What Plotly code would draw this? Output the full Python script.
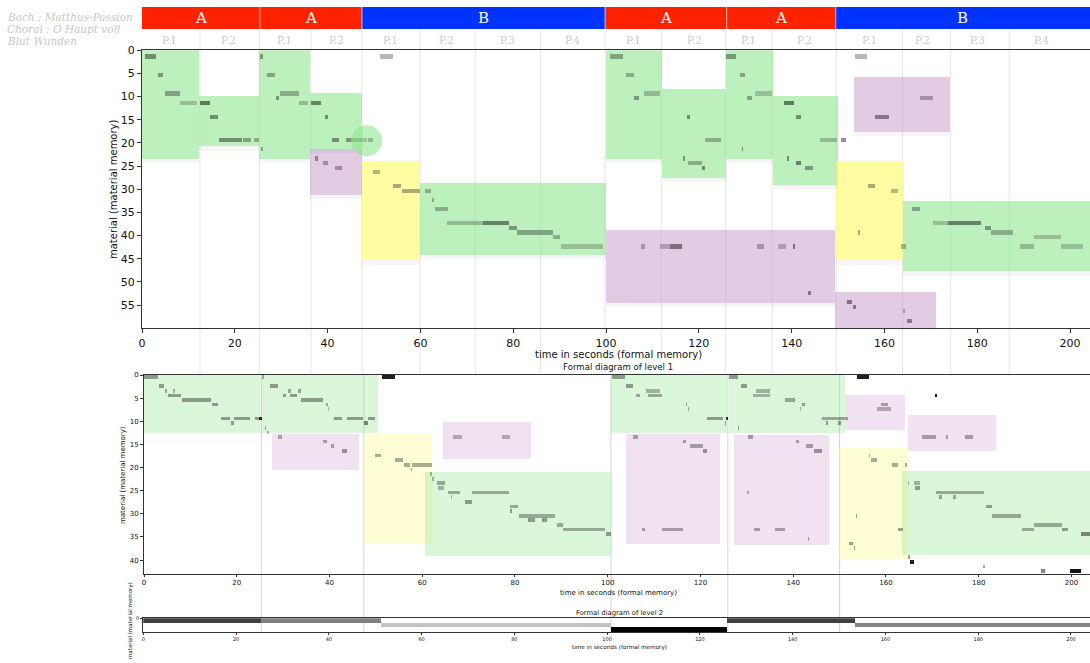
import plotly.graph_objects as go

W, H = 1090, 663

# ---------------- data ----------------
section_labels = ["A", "A", "B", "A", "A", "B"]
section_start = [0, 25.4, 47.4, 99.8, 126.0, 149.5]
section_end = [25.4, 47.4, 99.8, 126.0, 149.5, 204.3]
section_colors = ["#ff2200", "#ff2200", "#0033ff", "#ff2200", "#ff2200", "#0033ff"]

sub_labels = ["P.1", "P.2", "P.1", "P.2", "P.1", "P.2", "P.3", "P.4",
              "P.1", "P.2", "P.1", "P.2", "P.1", "P.2", "P.3", "P.4"]
sub_label_x = [6.0, 18.6, 30.8, 42.0, 53.5, 65.7, 78.7, 92.8,
               105.9, 119.0, 130.7, 142.8, 156.7, 168.2, 180.0, 193.9]
sub_bounds = [12.5, 25.3, 36.4, 47.4, 59.9, 71.8, 85.9, 99.8, 111.9,
              125.8, 135.8, 149.6, 163.9, 174.3, 186.9]

# level-0 (top) regions
top_x0 = [0, 12.3, 25.3, 36.3, 36.3, 47.5, 60.0, 100.0, 112.0, 125.8, 136.0, 100.0, 153.5, 149.5, 163.9, 149.3]
top_x1 = [12.3, 25.3, 36.3, 47.4, 47.4, 60.0, 100.0, 112.0, 125.8, 136.0, 150.0, 149.3, 174.1, 163.9, 204.3, 171.2]
top_y0 = [0, 9.9, 0, 9.2, 21.4, 24.0, 28.8, 0, 8.4, 0, 9.9, 38.9, 5.9, 24.0, 32.5, 52.3]
top_y1 = [23.5, 20.8, 23.5, 21.4, 31.3, 45.4, 44.2, 23.5, 27.6, 23.5, 29.1, 54.6, 17.7, 45.4, 47.8, 60.0]
top_kind = ["g", "g", "g", "g", "p", "y", "g", "g", "g", "g", "g", "p", "p", "y", "g", "p"]

circle_x = [48.4]
circle_y = [19.5]

top_note_row = [1, 5, 9, 11, 11, 14, 19, 19, 19,
                1, 5, 10, 9, 11, 11, 14, 19, 19, 19, 21,
                23, 24, 25, 1,
                26, 29, 30, 30,
                32, 34, 37, 37, 38, 39, 40, 42,
                1, 5, 10, 9,
                14, 19, 23, 24, 25,
                1, 5, 10, 9, 21,
                11, 14, 19, 19, 23, 24, 25,
                42, 42, 42, 42, 42, 42, 52,
                10, 14, 1,
                29, 30, 39, 42,
                34, 37, 37, 38, 39, 40, 42, 42,
                54, 55, 56, 58]
top_note_x0 = [0.6, 3.5, 5.0, 8.2, 12.5, 14.7, 16.6, 21.8, 24.2,
               25.4, 27.0, 28.9, 29.7, 33.9, 36.4, 39.4, 41.0, 44.0, 48.7, 25.7,
               37.3, 39.0, 41.6, 51.3,
               49.8, 54.0, 56.0, 61.0,
               62.6, 63.1, 65.7, 73.4, 79.0, 80.9, 88.6, 90.2,
               100.8, 104.4, 106.0, 108.2,
               117.5, 121.3, 116.5, 117.7, 120.6,
               125.9, 128.9, 130.3, 132.1, 129.2,
               138.4, 141.0, 146.1, 150.6, 139.1, 141.0, 142.8,
               107.5, 111.6, 113.7, 132.5, 137.0, 140.4, 143.6,
               167.7, 158.0, 153.7,
               156.5, 161.5, 154.3, 163.5,
               166.0, 170.4, 173.8, 181.6, 182.9, 192.2, 189.2, 198.0,
               152.0, 153.3, 164.0, 164.9]
top_note_x1 = [3.0, 4.5, 8.2, 11.8, 14.7, 16.4, 21.5, 23.5, 25.2,
               26.1, 28.7, 29.6, 33.8, 35.8, 38.5, 40.0, 42.5, 48.4, 49.8, 26.0,
               38.0, 40.0, 43.0, 54.0,
               51.3, 55.9, 60.0, 62.3,
               63.0, 66.0, 73.4, 79.0, 80.8, 88.6, 90.0, 99.3,
               103.7, 106.0, 107.0, 111.6,
               118.2, 124.8, 117.0, 120.6, 121.3,
               128.0, 130.0, 131.4, 135.7, 129.6,
               140.5, 142.0, 149.7, 151.8, 139.5, 142.0, 144.6,
               108.5, 113.7, 116.3, 134.0, 138.8, 140.7, 144.2,
               170.4, 161.0, 156.3,
               158.0, 163.0, 154.7, 164.7,
               167.7, 173.8, 180.9, 183.0, 187.7, 198.0, 192.2, 202.8,
               153.0, 153.8, 164.4, 166.0]
top_note_alpha = [0.45, 0.4, 0.35, 0.22, 0.55, 0.45, 0.45, 0.35, 0.3,
                  0.4, 0.35, 0.4, 0.3, 0.25, 0.5, 0.45, 0.45, 0.4, 0.55, 0.35,
                  0.4, 0.35, 0.35, 0.3,
                  0.3, 0.35, 0.35, 0.3,
                  0.3, 0.3, 0.25, 0.5, 0.4, 0.35, 0.3, 0.22,
                  0.35, 0.3, 0.4, 0.25,
                  0.45, 0.3, 0.4, 0.3, 0.45,
                  0.4, 0.35, 0.35, 0.22, 0.45,
                  0.55, 0.45, 0.25, 0.45, 0.45, 0.5, 0.4,
                  0.3, 0.25, 0.5, 0.3, 0.25, 0.5, 0.45,
                  0.3, 0.45, 0.3,
                  0.35, 0.3, 0.35, 0.3,
                  0.35, 0.22, 0.5, 0.4, 0.3, 0.22, 0.25, 0.22,
                  0.5, 0.45, 0.3, 0.45]

# level-1 regions
l1_x0 = [0, 25.2, 27.5, 47.3, 60.7, 64.5, 100.7, 103.9, 126.1, 127.3, 151.1, 164.8, 149.9, 163.4]
l1_x1 = [25.0, 50.4, 46.4, 62.2, 100.8, 83.4, 125.8, 124.3, 151.1, 147.7, 164.1, 183.7, 164.8, 204.3]
l1_y0 = [0, 0, 12.7, 12.7, 20.9, 10.2, 0, 12.7, 0, 12.9, 4.3, 8.6, 15.8, 20.7]
l1_y1 = [12.5, 12.5, 20.6, 36.5, 39.1, 18.1, 12.6, 36.6, 12.5, 36.8, 11.9, 16.5, 39.7, 38.9]
l1_kind = ["g", "g", "p", "y", "g", "p", "g", "p", "g", "p", "p", "p", "y", "g"]
l1_bounds = [25.3, 47.4, 100.7, 125.9, 150.0]

l1_note_row = [0, 2, 3, 4, 3, 5, 6, 9, 9, 9, 10, 9,
               0, 2, 4, 4, 3, 3, 5, 6, 7, 9, 9, 9, 10, 11, 12,
               13, 14, 15, 16, 0,
               17, 18, 19, 19, 20,
               21, 22, 23, 24, 25, 26, 25, 27, 28, 29, 30, 31, 31, 32, 33, 34,
               13, 13,
               0, 2, 4, 4, 3, 6, 7, 9, 10, 9,
               13, 14, 15, 16, 33, 33,
               0, 2, 4, 3, 5, 6, 7, 9, 10, 10, 11,
               13, 25, 33, 33, 14, 15, 16, 35,
               0, 6, 7, 4, 13, 13, 13,
               17, 18, 19, 19, 30, 33, 36, 37,
               23, 23, 24, 25, 26, 26, 28, 30, 32, 33, 33, 34, 39, 40, 41, 42, 42]
l1_note_x0 = [0.0, 3.3, 4.6, 5.2, 6.3, 8.3, 14.6, 16.7, 19.3, 23.9, 18.7, 24.9,
              25.5, 27.2, 29.9, 31.5, 31.0, 33.2, 33.8, 39.2, 39.7, 41.0, 43.7, 48.4, 47.5, 26.1, 26.6,
              29.0, 38.7, 40.3, 42.6, 51.4,
              49.8, 54.1, 56.0, 57.7, 57.5,
              61.6, 62.2, 63.1, 63.5, 65.6, 66.2, 70.7, 69.2, 78.9, 78.9, 80.9, 82.9, 85.8, 89.0, 90.4, 99.6,
              66.7, 77.1,
              100.9, 104.0, 106.0, 108.6, 108.3, 116.9, 117.3, 121.3, 125.3, 125.6,
              105.5, 116.3, 117.7, 120.6, 107.3, 111.6,
              126.1, 128.7, 131.4, 131.9, 138.2, 141.8, 141.4, 146.1, 147.0, 149.7, 128.1,
              130.3, 130.1, 131.5, 136.1, 140.7, 142.7, 144.5, 143.2,
              153.7, 158.9, 158.0, 170.6, 167.7, 173.0, 177.0,
              156.3, 156.7, 161.3, 164.2, 153.5, 162.5, 152.1, 153.1,
              164.8, 166.0, 166.2, 170.8, 171.5, 174.5, 181.5, 182.9, 192.0, 189.4, 198.0, 202.0,
              164.8, 165.2, 181.0, 193.5, 199.7]
l1_note_x1 = [3.1, 4.4, 5.0, 8.0, 6.6, 14.4, 16.0, 18.5, 22.9, 25.4, 19.3, 25.4,
              25.9, 28.8, 30.6, 33.0, 31.6, 33.8, 38.7, 39.6, 40.0, 42.6, 47.3, 49.9, 48.3, 26.4, 26.9,
              29.7, 39.4, 41.0, 43.7, 54.1,
              51.2, 55.8, 57.4, 62.2, 57.8,
              62.0, 62.5, 65.0, 64.8, 68.1, 66.5, 78.8, 70.7, 80.7, 79.3, 88.6, 84.3, 86.8, 90.3, 99.4, 100.7,
              68.5, 78.9,
              103.7, 105.5, 107.0, 111.6, 111.2, 117.2, 117.6, 124.9, 125.6, 125.9,
              106.6, 116.9, 120.6, 121.3, 108.0, 116.3,
              128.0, 130.1, 135.0, 135.0, 140.4, 142.5, 141.7, 151.9, 147.5, 150.2, 128.4,
              131.4, 130.4, 132.8, 138.2, 141.3, 144.2, 146.1, 143.5,
              156.4, 160.5, 161.0, 170.9, 170.8, 173.4, 178.8,
              156.6, 158.0, 162.5, 164.5, 153.8, 163.7, 152.8, 153.4,
              165.0, 167.3, 167.3, 181.1, 172.0, 175.0, 182.9, 189.2, 197.9, 192.0, 199.3, 203.9,
              165.1, 166.0, 181.3, 194.2, 202.0]
l1_note_alpha = [0.4, 0.4, 0.35, 0.4, 0.3, 0.4, 0.4, 0.4, 0.4, 0.4, 0.4, 0.85,
                 0.35, 0.4, 0.4, 0.4, 0.35, 0.35, 0.4, 0.35, 0.3, 0.4, 0.4, 0.4, 0.5, 0.35, 0.3,
                 0.35, 0.35, 0.35, 0.4, 0.95,
                 0.35, 0.35, 0.35, 0.35, 0.35,
                 0.3, 0.3, 0.35, 0.3, 0.35, 0.3, 0.35, 0.4, 0.35, 0.4, 0.35, 0.4, 0.4, 0.35, 0.35, 0.4,
                 0.3, 0.3,
                 0.4, 0.4, 0.35, 0.35, 0.3, 0.35, 0.35, 0.4, 0.4, 0.9,
                 0.35, 0.35, 0.35, 0.4, 0.35, 0.35,
                 0.4, 0.4, 0.3, 0.3, 0.35, 0.4, 0.3, 0.35, 0.4, 0.4, 0.35,
                 0.35, 0.3, 0.35, 0.35, 0.35, 0.35, 0.4, 0.35,
                 0.95, 0.35, 0.3, 0.95, 0.35, 0.35, 0.35,
                 0.3, 0.35, 0.35, 0.35, 0.35, 0.4, 0.4, 0.4,
                 0.3, 0.3, 0.4, 0.35, 0.35, 0.35, 0.4, 0.35, 0.35, 0.35, 0.4, 0.5,
                 0.4, 0.95, 0.4, 0.5, 1.0]

# level-2 bars
l2_row = [0, 0, 1, 2, 0, 1]
l2_x0 = [0, 25.4, 51.4, 100.8, 125.9, 153.6]
l2_x1 = [25.4, 51.4, 100.8, 125.9, 153.6, 204.3]
l2_color = ["#404040", "#808080", "#c3c3c3", "#000000", "#404040", "#858585"]

title_lines = ["Bach : Matthus-Passion", "Choral : O Haupt voll", "Blut Wunden"]

# ---------------- styling ----------------
top_fill = {"g": "rgba(144,230,144,0.6)", "p": "rgba(205,160,205,0.55)", "y": "rgba(255,250,110,0.65)"}
l1_fill = {"g": "rgba(144,230,144,0.33)", "p": "rgba(205,160,205,0.3)", "y": "rgba(255,250,110,0.3)"}


def px_x(p):
    return p / W


def px_y(p):
    return 1 - p / H


def hbars(x0, x1, yc, hgt, colors, xa, ya):
    return go.Bar(orientation="h", base=x0, x=[b - a for a, b in zip(x0, x1)], y=yc,
                  width=hgt, marker=dict(color=colors, line=dict(width=0)),
                  xaxis=xa, yaxis=ya, hoverinfo="skip", showlegend=False)


fig = go.Figure()

# top regions
fig.add_trace(hbars(top_x0, top_x1, [(a + b) / 2 for a, b in zip(top_y0, top_y1)],
                    [b - a for a, b in zip(top_y0, top_y1)], [top_fill[k] for k in top_kind], "x", "y"))
# soft shadow under top regions
fig.add_trace(hbars(top_x0, top_x1, [b + 0.45 for b in top_y1], [0.9] * len(top_y1),
                    ["rgba(0,0,0,0.035)"] * len(top_y1), "x", "y"))
fig.add_trace(go.Scatter(x=circle_x, y=circle_y, mode="markers", xaxis="x", yaxis="y",
                         marker=dict(size=31, color="rgba(144,230,144,0.6)", line=dict(width=0)),
                         hoverinfo="skip", showlegend=False))
fig.add_trace(hbars(top_note_x0, top_note_x1, [r + 0.4 for r in top_note_row], [0.9] * len(top_note_row),
                    [f"rgba(20,20,20,{a})" for a in top_note_alpha], "x", "y"))

# level 1
fig.add_trace(hbars(l1_x0, l1_x1, [(a + b) / 2 for a, b in zip(l1_y0, l1_y1)],
                    [b - a for a, b in zip(l1_y0, l1_y1)], [l1_fill[k] for k in l1_kind], "x2", "y2"))
fig.add_trace(hbars(l1_note_x0, l1_note_x1, [r + 0.4 for r in l1_note_row], [0.8] * len(l1_note_row),
                    [f"rgba(20,20,20,{a})" for a in l1_note_alpha], "x2", "y2"))

# level 2
fig.add_trace(hbars(l2_x0, l2_x1, [r + 0.5 for r in l2_row], [1.0] * len(l2_row), l2_color, "x3", "y3"))

# section bar
fig.add_trace(hbars(section_start, section_end, [0] * len(section_start), [1] * len(section_start),
                    section_colors, "x4", "y4"))

shapes = []
for b in sub_bounds:
    shapes.append(dict(type="line", xref="x", yref="paper", x0=b, x1=b, y0=px_y(375), y1=px_y(30),
                       line=dict(color="rgba(200,200,200,0.45)", width=1), layer="below"))
for b in l1_bounds:
    shapes.append(dict(type="line", xref="x2", yref="paper", x0=b, x1=b, y0=px_y(632), y1=px_y(375),
                       line=dict(color="rgba(185,185,185,0.6)", width=1), layer="below"))
# white separators between sections
for s in section_start[1:]:
    shapes.append(dict(type="line", xref="x4", yref="y4", x0=s, x1=s, y0=-0.5, y1=0.5,
                       line=dict(color="rgba(255,255,255,0.7)", width=1)))

annotations = []
for lab, a, b in zip(section_labels, section_start, section_end):
    annotations.append(dict(text=lab, x=(a + b) / 2, y=0, xref="x4", yref="y4", showarrow=False,
                            xanchor="center", yanchor="middle",
                            font=dict(family="DejaVu Serif", size=15, color="white")))
for lab, xc in zip(sub_labels, sub_label_x):
    annotations.append(dict(text=lab, x=xc, y=px_y(40), xref="x", yref="paper", showarrow=False,
                            xanchor="center", yanchor="middle",
                            font=dict(family="DejaVu Serif", size=10.5, color="#cccccc")))
for i, t in enumerate(title_lines):
    annotations.append(dict(text=f"<i>{t}</i>", x=px_x(5), y=px_y(17 + 12 * i), xref="paper", yref="paper",
                            xanchor="left", yanchor="middle", showarrow=False,
                            font=dict(family="DejaVu Serif", size=10.5, color="#c8c8c8")))

lab_font = "DejaVu Sans"


def label(text, x, y, size, angle=0):
    return dict(text=text, x=px_x(x), y=px_y(y), textangle=angle, xref="paper", yref="paper",
                xanchor="center", yanchor="middle", showarrow=False,
                font=dict(family=lab_font, size=size, color="#111"))


annotations += [
    label("material (material memory)", 113, 189, 10, -90),
    label("time in seconds (formal memory)", 618, 354, 10),
    label("Formal diagram of level 1", 618, 367, 8.6),
    label("material (material memory)", 123, 475, 7, -90),
    label("time in seconds (formal memory)", 618, 592.5, 7),
    label("Formal diagram of level 2", 619, 612.7, 6.8),
    label("time in seconds (formal memory)", 619, 647.5, 5.7),
    label("material (material memory)", 130, 621, 5.5, -90),
]

axis_common = dict(showgrid=False, zeroline=False, showline=True, linecolor="#333", linewidth=1,
                   ticks="outside", tickcolor="#333", automargin=False)

fig.update_layout(
    template="none",
    width=W, height=H, margin=dict(l=0, r=0, t=0, b=0, pad=0), autosize=False,
    paper_bgcolor="white", plot_bgcolor="rgba(0,0,0,0)",
    barmode="overlay", bargap=0, showlegend=False,
    font=dict(family=lab_font, color="#111"),
    xaxis=dict(domain=[px_x(142), 1], range=[0, 204.3], anchor="y", mirror=True, tickvals=list(range(0, 201, 20)),
               ticklen=4, tickfont=dict(size=11), **axis_common),
    yaxis=dict(domain=[px_y(328.3), px_y(50.3)], range=[60, 0], anchor="x", tickvals=list(range(0, 56, 5)),
               ticklen=4, tickfont=dict(size=11), **axis_common),
    xaxis2=dict(domain=[px_x(144), 1], range=[0, 204.0], anchor="y2", mirror=True, tickvals=list(range(0, 201, 20)),
                ticklen=2, tickfont=dict(size=7), **axis_common),
    yaxis2=dict(domain=[px_y(574), px_y(375)], range=[43, 0], anchor="x2", tickvals=list(range(0, 41, 5)),
                ticklen=3, tickfont=dict(size=7), **axis_common),
    xaxis3=dict(domain=[px_x(143.3), 1], range=[0, 204.1], anchor="y3", mirror=True, tickvals=list(range(0, 201, 20)),
                ticklen=2, tickfont=dict(size=5), **axis_common),
    yaxis3=dict(domain=[px_y(632.3), px_y(618.3)], range=[3, 0], anchor="x3", tickvals=[0],
                ticklen=2, tickfont=dict(size=5), **axis_common),
    xaxis4=dict(domain=[px_x(142), 1], range=[0, 204.3], anchor="y4", visible=False, automargin=False),
    yaxis4=dict(domain=[px_y(29), px_y(7)], range=[-0.5, 0.5], anchor="x4", visible=False, automargin=False),
    shapes=shapes, annotations=annotations,
)

fig.write_html("out.html", config={"responsive": False, "displayModeBar": False},
               post_script="document.body.style.margin='0';document.body.style.padding='0';"
                           "document.body.style.overflow='hidden';")
